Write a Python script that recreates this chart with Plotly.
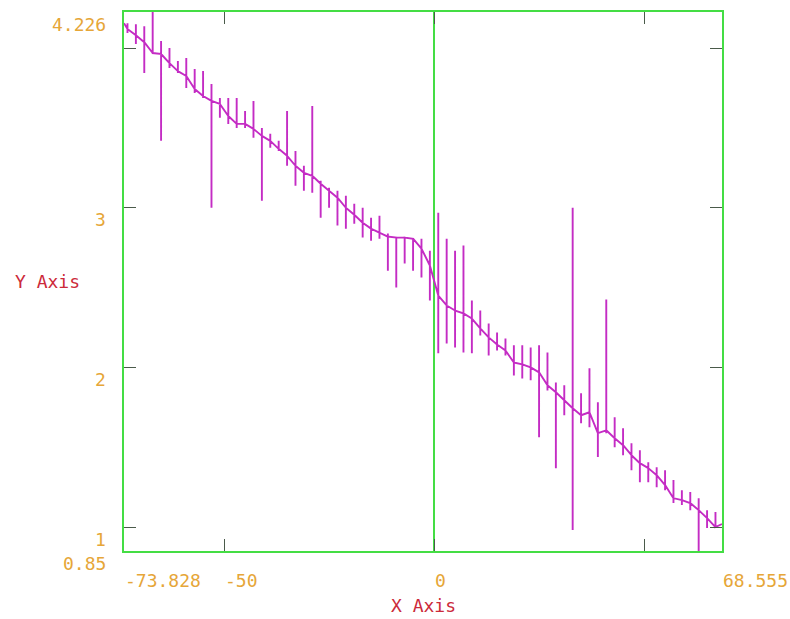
import plotly.graph_objects as go

# ---- data ----
x_start, y_start = -73.828, 4.156
x_end, y_end = 68.555, 1.019

x_pos = [-73, -71, -69, -67, -65, -63, -61, -59, -57, -55,
         -53, -51, -49, -47, -45, -43, -41, -39, -37, -35,
         -33, -31, -29, -27, -25, -23, -21, -19, -17, -15,
         -13, -11, -9, -7, -5, -3, -1, 1, 3, 5,
         7, 9, 11, 13, 15, 17, 19, 21, 23, 25,
         27, 29, 31, 33, 35, 37, 39, 41, 43, 45,
         47, 49, 51, 53, 55, 57, 59, 61, 63, 65, 67]

trend = [4.119, 4.081, 4.037, 3.969, 3.963, 3.906, 3.856, 3.825, 3.744, 3.700,
         3.669, 3.650, 3.575, 3.525, 3.525, 3.494, 3.450, 3.419, 3.369, 3.325,
         3.263, 3.219, 3.200, 3.150, 3.106, 3.063, 3.000, 2.956, 2.906, 2.869,
         2.844, 2.819, 2.813, 2.813, 2.806, 2.744, 2.638, 2.450, 2.388, 2.356,
         2.338, 2.306, 2.244, 2.188, 2.144, 2.106, 2.031, 2.019, 2.000, 1.969,
         1.888, 1.844, 1.794, 1.744, 1.700, 1.719, 1.588, 1.606, 1.556, 1.513,
         1.450, 1.400, 1.369, 1.325, 1.263, 1.181, 1.169, 1.150, 1.106, 1.056, 1.000]

spike_hi = [4.156, 4.150, 4.137, 4.263, 4.044, 4.000, 3.919, 3.938, 3.869, 3.856,
            3.775, 3.688, 3.688, 3.688, 3.606, 3.669, 3.500, 3.463, 3.419, 3.606,
            3.356, 3.263, 3.638, 3.169, 3.125, 3.106, 3.075, 3.025, 3.000, 2.938,
            2.950, 2.838, 2.813, 2.806, 2.794, 2.806, 2.731, 2.969, 2.806, 2.731,
            2.763, 2.419, 2.356, 2.275, 2.219, 2.181, 2.138, 2.138, 2.125, 2.138,
            2.094, 1.906, 1.888, 3.000, 1.838, 1.994, 1.781, 2.425, 1.688, 1.619,
            1.525, 1.481, 1.406, 1.375, 1.356, 1.294, 1.231, 1.219, 1.181, 1.106, 1.094]

spike_lo = [4.094, 4.025, 3.844, 3.969, 3.419, 3.875, 3.844, 3.750, 3.719, 3.688,
            3.000, 3.563, 3.525, 3.500, 3.500, 3.438, 3.044, 3.375, 3.356, 3.263,
            3.138, 3.106, 3.094, 2.938, 3.000, 2.888, 2.869, 2.900, 2.813, 2.794,
            2.806, 2.606, 2.500, 2.650, 2.606, 2.563, 2.419, 2.088, 2.150, 2.125,
            2.094, 2.088, 2.200, 2.075, 2.106, 2.075, 1.950, 1.931, 1.919, 1.563,
            1.856, 1.369, 1.700, 0.981, 1.650, 1.625, 1.438, 1.588, 1.500, 1.450,
            1.356, 1.281, 1.281, 1.250, 1.231, 1.150, 1.138, 1.106, 0.844, 0.994, 1.000]

x_range = [-73.828, 68.555]
y_range = [0.85, 4.226]
x_ticks = [-50, 0, 50]
y_ticks = [1, 2, 3, 4]
x_labels = [(-73.828, "-73.828"), (-50, "-50"), (0, "0"), (68.555, "68.555")]
y_labels = [(4.226, "4.226"), (3, "3"), (2, "2"), (1, "1"), (0.85, "0.85")]

# ---- build the polyline path from the data ----
xs, ys = [x_start], [y_start]
for xp, t, hi, lo in zip(x_pos, trend, spike_hi, spike_lo):
    xs += [xp, xp, xp, xp]
    ys += [t, hi, lo, t]
xs.append(x_end)
ys.append(y_end)

GREEN = "#44dd44"
TICK = "#4a5a4a"
ORANGE = "#e6a638"
RED = "#cc2a3a"
FONT = "DejaVu Sans Mono"

fig = go.Figure()
fig.add_trace(go.Scatter(x=xs, y=ys, mode="lines",
                         line=dict(color="#c42cc4", width=1.9),
                         hoverinfo="skip", showlegend=False))

axis_common = dict(showgrid=False, ticks="inside", ticklen=12, tickwidth=1,
                   tickcolor=TICK, showticklabels=False, showline=True,
                   linecolor=GREEN, linewidth=2, mirror="ticks")

fig.update_xaxes(range=x_range, tickvals=x_ticks, zeroline=True,
                 zerolinecolor=GREEN, zerolinewidth=2, **axis_common)
fig.update_yaxes(range=y_range, tickvals=y_ticks, zeroline=False, **axis_common)

ann = []
for xv, txt in x_labels:
    ann.append(dict(x=xv, y=0, xref="x", yref="paper", text=txt, showarrow=False,
                    xanchor="left", yanchor="middle", yshift=-29, xshift=-1,
                    font=dict(family=FONT, size=18, color=ORANGE)))
for yv, txt in y_labels:
    ann.append(dict(x=0, y=yv, xref="paper", yref="y", text=txt, showarrow=False,
                    xanchor="right", yanchor="middle", xshift=-16, yshift=-12,
                    font=dict(family=FONT, size=18, color=ORANGE)))

plot_l, plot_r, plot_t, plot_b = 124, 722, 10, 551
pw, ph = plot_r - plot_l, plot_b - plot_t
ann.append(dict(x=(423.5 - plot_l) / pw, y=(plot_b - 606) / ph, xref="paper", yref="paper",
                text="X Axis", showarrow=False, xanchor="center", yanchor="middle",
                font=dict(family=FONT, size=18, color=RED)))
ann.append(dict(x=(13 - plot_l) / pw, y=(plot_b - 280) / ph, xref="paper", yref="paper",
                text="Y Axis", showarrow=False, xanchor="left", yanchor="middle",
                font=dict(family=FONT, size=18, color=RED)))

fig.update_layout(width=790, height=619,
                  margin=dict(l=plot_l, r=790 - plot_r, t=plot_t, b=619 - plot_b),
                  paper_bgcolor="white", plot_bgcolor="white",
                  annotations=ann, showlegend=False)

fig.write_html("out.html")
